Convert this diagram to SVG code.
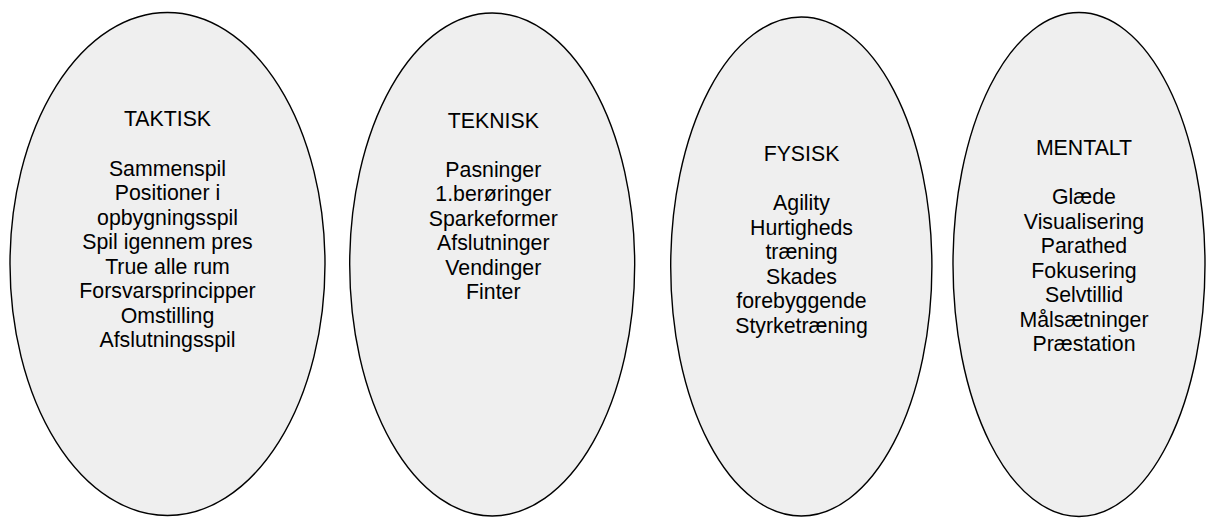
<svg xmlns="http://www.w3.org/2000/svg" width="1206" height="518" viewBox="0 0 1206 518">
<style>
.bub{fill:#efefef;stroke:#000;stroke-width:1.4}
.t{font-family:"Liberation Sans",Arial,sans-serif;font-size:21.3px;fill:#000;text-anchor:middle}
</style>
<rect width="1206" height="518" fill="#fff"/>
<g id="connectors"></g>
<g id="taktisk">
<ellipse class="bub" cx="167.5" cy="264" rx="157.5" ry="251.5"/>
<text class="t" x="167.5" y="126">TAKTISK</text>
<text class="t" x="167.5" y="175.5">Sammenspil</text>
<text class="t" x="167.5" y="200">Positioner i</text>
<text class="t" x="167.5" y="224.5">opbygningsspil</text>
<text class="t" x="167.5" y="249">Spil igennem pres</text>
<text class="t" x="167.5" y="273.5">True alle rum</text>
<text class="t" x="167.5" y="298">Forsvarsprincipper</text>
<text class="t" x="167.5" y="322.5">Omstilling</text>
<text class="t" x="167.5" y="347">Afslutningsspil</text>
</g>
<g id="teknisk">
<ellipse class="bub" cx="492.2" cy="264.5" rx="142.5" ry="251.5"/>
<text class="t" x="493.3" y="127.5">TEKNISK</text>
<text class="t" x="493.3" y="176.5">Pasninger</text>
<text class="t" x="493.3" y="201">1.berøringer</text>
<text class="t" x="493.3" y="225.5">Sparkeformer</text>
<text class="t" x="493.3" y="250">Afslutninger</text>
<text class="t" x="493.3" y="274.5">Vendinger</text>
<text class="t" x="493.3" y="299">Finter</text>
</g>
<g id="fysisk">
<ellipse class="bub" cx="801.3" cy="266.5" rx="130.6" ry="249.5"/>
<text class="t" x="801.5" y="161">FYSISK</text>
<text class="t" x="801.5" y="210">Agility</text>
<text class="t" x="801.5" y="234.5">Hurtigheds</text>
<text class="t" x="801.5" y="259">træning</text>
<text class="t" x="801.5" y="283.5">Skades</text>
<text class="t" x="801.5" y="308">forebyggende</text>
<text class="t" x="801.5" y="332.5">Styrketræning</text>
</g>
<g id="mentalt">
<ellipse class="bub" cx="1079" cy="264.5" rx="126" ry="252"/>
<text class="t" x="1084" y="155">MENTALT</text>
<text class="t" x="1084" y="204">Glæde</text>
<text class="t" x="1084" y="228.5">Visualisering</text>
<text class="t" x="1084" y="253">Parathed</text>
<text class="t" x="1084" y="277.5">Fokusering</text>
<text class="t" x="1084" y="302">Selvtillid</text>
<text class="t" x="1084" y="326.5">Målsætninger</text>
<text class="t" x="1084" y="351">Præstation</text>
</g>
</svg>
